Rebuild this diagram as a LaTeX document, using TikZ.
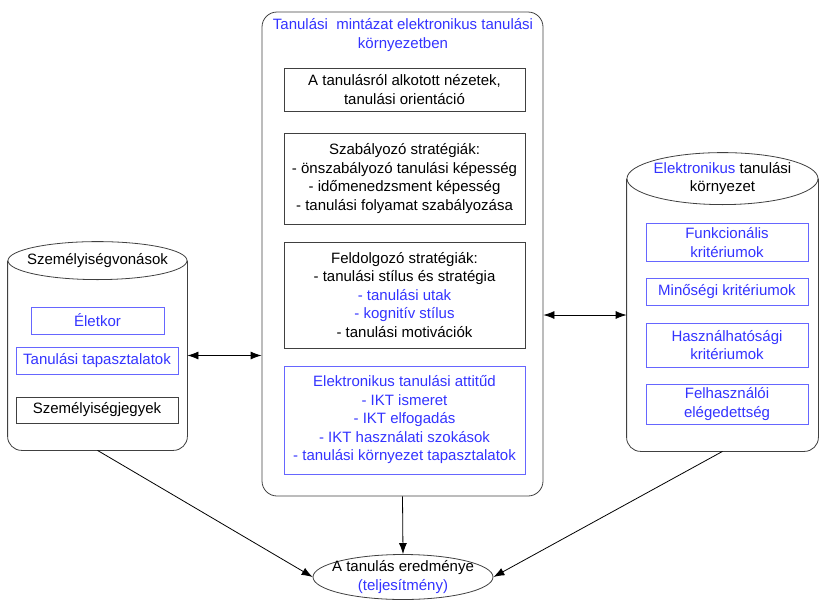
\documentclass[tikz,border=0pt]{standalone}
\usepackage{fontspec}
\setmainfont{Liberation Sans}
\usetikzlibrary{shapes.geometric,arrows.meta}
\definecolor{ikt}{RGB}{51,51,255}
\begin{document}
\begin{tikzpicture}[x=1pt, y=-1pt, line width=0.8pt,
    font=\fontsize{15}{18.5}\selectfont,
    >={Latex[length=11pt,width=8pt]},
    box/.style={draw=black!75, align=center, inner sep=0pt},
    bluebox/.style={box, draw=ikt!75, text=ikt},
    oval/.style={ellipse, draw=black!75, fill=white, inner sep=0pt},
    body/.style={inner sep=0pt}]
  \useasboundingbox (0,0) rectangle (819,600);

  % Main box
  \node[box, rounded corners=15pt, minimum width=281pt, minimum height=484pt] (main) at (402.5,254) {};
  \node[text=ikt, align=center] (maintitle) at (403,35) {Tanulási\ \ mintázat elektronikus tanulási\\környezetben};
  \node[box, minimum width=241pt, minimum height=43pt] (views) at (404.5,89.5) {A tanulásról alkotott nézetek,\\tanulási orientáció};
  \node[box, minimum width=241pt, minimum height=91pt] (regul) at (404.5,178.5) {Szabályozó stratégiák:\\- önszabályozó tanulási képesség\\- időmenedzsment képesség\\- tanulási folyamat szabályozása};
  \node[box, minimum width=241pt, minimum height=106pt] (proc) at (404.5,295) {Feldolgozó stratégiák:\\- tanulási stílus és stratégia\\\textcolor{ikt}{- tanulási utak}\\\textcolor{ikt}{- kognitív stílus}\\- tanulási motivációk};
  \node[bluebox, minimum width=241pt, minimum height=108pt] (attit) at (404.5,420) {Elektronikus tanulási attitűd\\- IKT ismeret\\- IKT elfogadás\\- IKT használati szokások\\- tanulási környezet tapasztalatok};

  % Left cylinder
  \node[body, minimum width=179pt, minimum height=189pt] (pers) at (97.5,355.5) {};
  \draw[black!75, rounded corners=14pt] (pers.north west) -- (pers.south west) -- (pers.south east) -- (pers.north east);
  \node[oval, minimum width=179pt, minimum height=38pt] (perstop) at (pers.north) {};
  \node (perstitle) at (perstop) {Személyiségvonások};
  \node[bluebox, minimum width=133pt, minimum height=27pt] (age) at (97.5,320.5) {Életkor};
  \node[bluebox, minimum width=162pt, minimum height=27pt] (exper) at (97,360.5) {Tanulási tapasztalatok};
  \node[box, minimum width=162pt, minimum height=26pt] (traits) at (97,410) {Személyiségjegyek};

  % Right cylinder
  \node[body, minimum width=191pt, minimum height=272pt] (env) at (722.5,315) {};
  \draw[black!75, rounded corners=14pt] (env.north west) -- (env.south west) -- (env.south east) -- (env.north east);
  \node[oval, minimum width=191pt, minimum height=52pt] (envtop) at (env.north) {};
  \node[align=center] (envtitle) at (envtop) {\textcolor{ikt}{Elektronikus} tanulási\\környezet};
  \node[bluebox, minimum width=162pt, minimum height=38pt] (func) at (727,242.5) {Funkcionális\\kritériumok};
  \node[bluebox, minimum width=162pt, minimum height=27pt] (qual) at (727,291.5) {Minőségi kritériumok};
  \node[bluebox, minimum width=162pt, minimum height=44pt] (usab) at (727,345) {Használhatósági\\kritériumok};
  \node[bluebox, minimum width=162pt, minimum height=40pt] (satis) at (727,404) {Felhasználói\\elégedettség};

  % Result
  \node[oval, minimum width=180pt, minimum height=45pt] (result) at (403,577) {};
  \node[align=center] (resulttxt) at (result) {A tanulás eredménye\\\textcolor{ikt}{(teljesítmény)}};

  % Arrows
  \draw[<->] (pers.east) -- (pers.east -| main.west);
  \draw[<->] (env.west -| main.east) -- (env.west);
  \draw[->] (main.south) -- (result.north);
  \draw[->] (pers.south) -- (result.west);
  \draw[->] (env.south) -- (result.east);
\end{tikzpicture}
\end{document}
